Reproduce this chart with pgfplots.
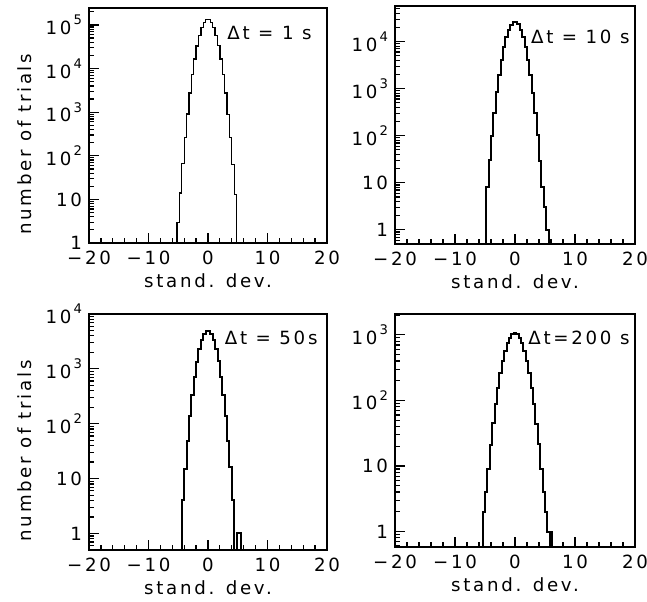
\documentclass[border=0pt]{standalone}
\usepackage{fontspec}
\setmainfont{DejaVu Sans}[LetterSpace=15]
\usepackage{pgfplots}
\pgfplotsset{compat=1.18}

% decade labels: smaller raised exponent as in the original
\newcommand\tp[1]{10\kern1pt\raisebox{4.8pt}{\fontsize{6.6}{7}\selectfont #1}}
\newcommand\lfont{\fontsize{9.1}{10}\selectfont}

\pgfplotsset{
  every axis/.append style={
    scale only axis,
    xmin=-20, xmax=20,
    xtick={-20,-10,0,10,20},
    xticklabels={−20,−10,0,10,20},
    minor x tick num=4,
    ytick={1,10,100,1000,10000,100000},
    yticklabels={1,10,\tp{2},\tp{3},\tp{4},\tp{5}},
    minor ytick={0.6,0.7,0.8,0.9,2,3,4,5,6,7,8,9,20,30,40,50,60,70,80,90,
      200,300,400,500,600,700,800,900,2000,3000,4000,5000,6000,7000,8000,9000,
      20000,30000,40000,50000,60000,70000,80000,90000,200000},
    tick pos=left,
    tick align=inside,
    major tick length=5pt,
    minor tick length=2.5pt,
    tick style={black, line width=0.6pt},
    axis line style={line width=1pt},
    tick label style={font=\lfont},
    xticklabel style={yshift=-0.5pt},
    label style={font=\lfont},
    xlabel={stand. dev.},
    xlabel style={yshift=2.5pt},
    ylabel style={at={(rel axis cs:-0.27,0.42)}, anchor=center},
  },
}

\begin{document}
\begin{tikzpicture}

% ---- dt = 1 s
\begin{semilogyaxis}[at={(44.5pt,179pt)}, anchor=south west,
  width=119pt, height=117.5pt, ymin=1, ymax=2.45e5,
  ylabel={number of trials}]
\addplot[black, line width=0.65pt, const plot mark left] coordinates {
  (-5.2,0.1) (-5.2,3) (-4.8,14) (-4.4,66) (-4.0,262) (-3.6,905) (-3.2,2760)
  (-2.8,7240) (-2.4,16700) (-2.0,33200) (-1.6,58000) (-1.2,87700)
  (-0.8,115900) (-0.4,133200) (0.0,132800) (0.4,115600) (0.8,87900)
  (1.2,57800) (1.6,33300) (2.0,16600) (2.4,7260) (2.8,2740) (3.2,890)
  (3.6,258) (4.0,63) (4.4,13) (4.8,13) (4.8,0.1)
};
\node[anchor=east, inner sep=0pt, font=\lfont] at (rel axis cs:0.937,0.894) {Δt = 1 s};
\end{semilogyaxis}

% ---- dt = 10 s
\begin{semilogyaxis}[at={(197.5pt,178.5pt)}, anchor=south west,
  width=120pt, height=119pt, ymin=0.5, ymax=5.7e4]
\addplot[black, line width=1pt, const plot mark left] coordinates {
  (-4.8,0.1) (-4.8,8) (-4.4,30) (-4.0,100) (-3.6,310) (-3.2,830) (-2.8,1950)
  (-2.4,4100) (-2.0,7600) (-1.6,12400) (-1.2,18000) (-0.8,23000)
  (-0.4,26000) (0.0,25900) (0.4,23100) (0.8,17900) (1.2,12500) (1.6,7550)
  (2.0,4120) (2.4,1970) (2.8,820) (3.2,305) (3.6,104) (4.0,29) (4.4,8)
  (4.8,3) (5.2,1) (5.6,1) (5.6,0.1)
};
\node[anchor=east, inner sep=0pt, font=\lfont] at (rel axis cs:0.979,0.87) {Δt = 10 s};
\end{semilogyaxis}

% ---- dt = 50 s
\begin{semilogyaxis}[at={(44.5pt,25.5pt)}, anchor=south west,
  width=119pt, height=118pt, ymin=0.5, ymax=1e4,
  ylabel={number of trials}]
\addplot[black, line width=1pt, const plot mark left] coordinates {
  (-4.4,0.1) (-4.4,4) (-4.0,15) (-3.6,49) (-3.2,136) (-2.8,333) (-2.4,720)
  (-2.0,1360) (-1.6,2270) (-1.2,3340) (-0.8,4310) (-0.4,4900) (0.0,4890)
  (0.4,4320) (0.8,3330) (1.2,2280) (1.6,1370) (2.0,715) (2.4,330)
  (2.8,138) (3.2,48) (3.6,16) (4.0,4) (4.4,0.1) (4.8,1) (5.2,1) (5.6,1)
  (5.6,0.1)
};
\node[anchor=east, inner sep=0pt, font=\lfont] at (rel axis cs:0.962,0.90) {Δt = 50s};
\end{semilogyaxis}

% ---- dt = 200 s
\begin{semilogyaxis}[at={(197.5pt,27pt)}, anchor=south west,
  width=120pt, height=116.5pt, ymin=0.58, ymax=2080]
\addplot[black, line width=1pt, const plot mark left] coordinates {
  (-5.4,0.1) (-5.4,2) (-5.0,4) (-4.6,9) (-4.2,21) (-3.8,45) (-3.4,87)
  (-3.0,157) (-2.6,260) (-2.2,400) (-1.8,568) (-1.4,746) (-1.0,907)
  (-0.6,1019) (-0.2,1060) (0.2,1015) (0.6,910) (1.0,740) (1.4,570)
  (1.8,395) (2.2,262) (2.6,155) (3.0,88) (3.4,44) (3.8,22) (4.2,9)
  (4.6,4) (5.0,2) (5.4,1) (5.8,1) (6.2,1) (6.2,0.1)
};
\addplot[black, line width=1pt] coordinates {(5.8,0.1) (5.8,1)};
\node[anchor=east, inner sep=0pt, font=\lfont] at (rel axis cs:0.979,0.897) {Δt=200 s};
\end{semilogyaxis}

\pgfresetboundingbox
\path (0,0) rectangle (323.5pt,300.5pt);
\end{tikzpicture}
\end{document}
